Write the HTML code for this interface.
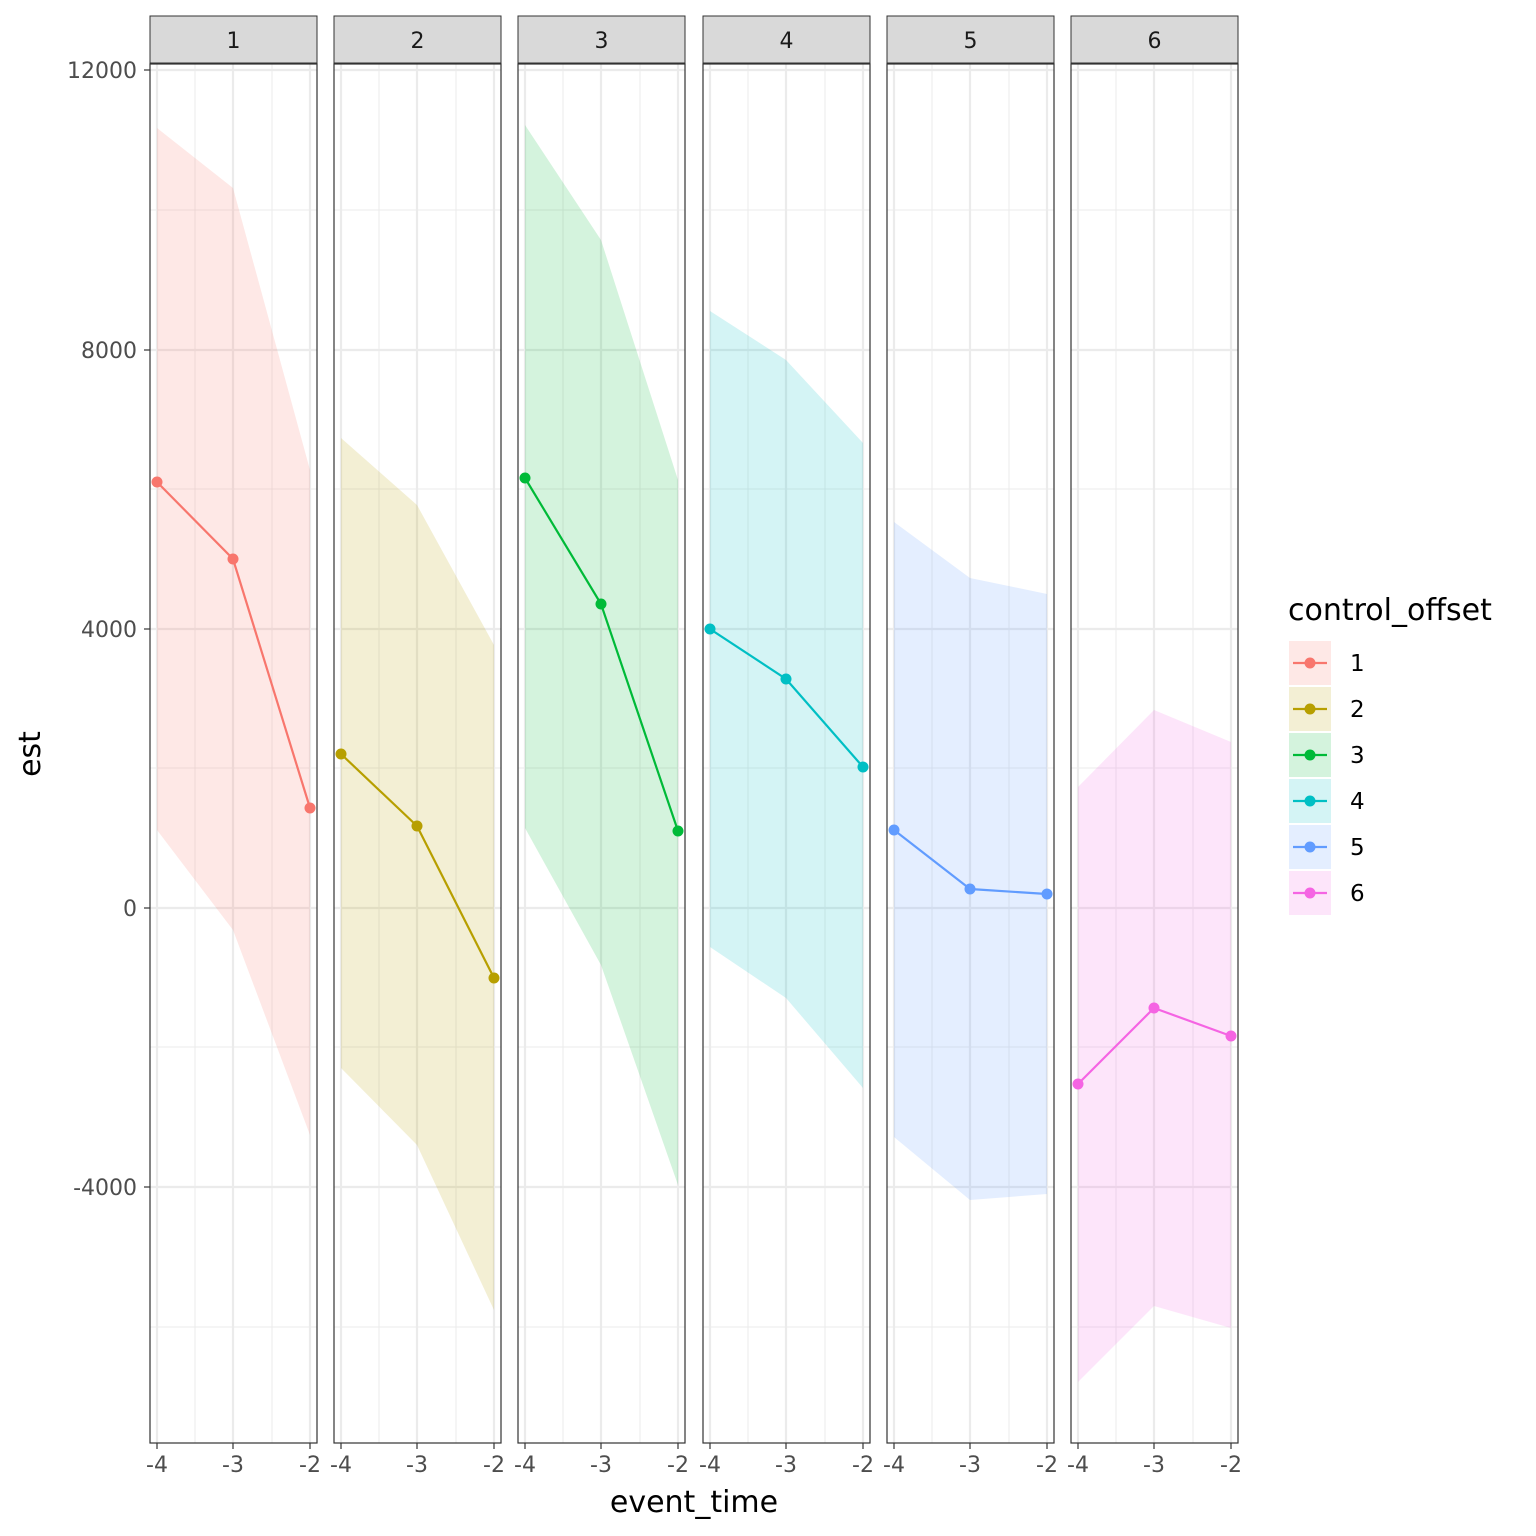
<!DOCTYPE html>
<html><head><meta charset="utf-8"><style>html,body{margin:0;padding:0;background:#fff}svg{display:block}text{font-family:"DejaVu Sans","Liberation Sans",sans-serif}</style></head><body>
<svg id="s" width="1536" height="1536" xmlns="http://www.w3.org/2000/svg"></svg>
<script>
const s=document.getElementById('s');let h='';
const cols=['#F8766D','#B79F00','#00BA38','#00BFC4','#619CFF','#F564E3'];
const px=[150,334,518,703,887,1071];
const pts=[[482,559,808],[754,826,978],[478,604,831],[629,679,767],[830,889,894],[1084,1008,1036]];
const up=[[128,188,470],[438,505,645],[125,240,480],[311,360,443],[522,578,594],[787,710,742]];
const lo=[[830,930,1135],[1068,1145,1310],[828,965,1185],[947,998,1088],[1137,1200,1194],[1382,1306,1328]];
const offs=[7,83,160];
const yMaj=[70,350,629,908,1187],yMin=[210,489,768,1047,1327];
for(let p=0;p<6;p++){
 const x0=px[p],w=167;
 h+=`<rect x="${x0}" y="16" width="${w}" height="47" fill="#D9D9D9" stroke="#333" stroke-width="1"/>`;
 h+=`<text x="${x0+w/2}" y="48" font-size="22" fill="#1A1A1A" text-anchor="middle">${p+1}</text>`;
 for(const y of yMin)h+=`<line x1="${x0}" x2="${x0+w}" y1="${y}" y2="${y}" stroke="#EBEBEB" stroke-width="1"/>`;
 for(const o of [45,122])h+=`<line x1="${x0+o}" x2="${x0+o}" y1="64" y2="1443" stroke="#EBEBEB" stroke-width="1"/>`;
 for(const y of yMaj)h+=`<line x1="${x0}" x2="${x0+w}" y1="${y}" y2="${y}" stroke="#EBEBEB" stroke-width="2.2"/>`;
 for(const o of offs)h+=`<line x1="${x0+o}" x2="${x0+o}" y1="64" y2="1443" stroke="#EBEBEB" stroke-width="2.2"/>`;
 const xs=offs.map(o=>x0+o);
 h+=`<polygon points="${xs.map((x,i)=>x+','+up[p][i]).join(' ')} ${xs.slice().reverse().map((x,i)=>x+','+lo[p][2-i]).join(' ')}" fill="${cols[p]}" fill-opacity="0.17"/>`;
 h+=`<polyline points="${xs.map((x,i)=>x+','+pts[p][i]).join(' ')}" fill="none" stroke="${cols[p]}" stroke-width="2.2"/>`;
 xs.forEach((x,i)=>h+=`<circle cx="${x}" cy="${pts[p][i]}" r="5.5" fill="${cols[p]}"/>`);
 h+=`<rect x="${x0}" y="64" width="${w}" height="1379" fill="none" stroke="#333" stroke-width="1.2"/>`;
 ['-4','-3','-2'].forEach((t,i)=>{h+=`<line x1="${xs[i]}" x2="${xs[i]}" y1="1443" y2="1449" stroke="#333" stroke-width="1.2"/><text x="${xs[i]}" y="1472" font-size="22" fill="#4D4D4D" text-anchor="middle">${t}</text>`;});
}
['12000','8000','4000','0','-4000'].forEach((t,i)=>{h+=`<line x1="144" x2="150" y1="${yMaj[i]}" y2="${yMaj[i]}" stroke="#333" stroke-width="1.2"/><text x="137" y="${yMaj[i]+8}" font-size="22" fill="#4D4D4D" text-anchor="end">${t}</text>`;});
h+=`<text x="694" y="1512" font-size="30" fill="#000" text-anchor="middle">event_time</text>`;
h+=`<text transform="translate(40,754) rotate(-90)" font-size="30" fill="#000" text-anchor="middle">est</text>`;
h+=`<text x="1288" y="620" font-size="30" fill="#000">control_offset</text>`;
for(let i=0;i<6;i++){const y=641+i*46;h+=`<rect x="1289" y="${y}" width="42" height="44" fill="${cols[i]}" fill-opacity="0.17"/><line x1="1293" x2="1327" y1="${y+22}" y2="${y+22}" stroke="${cols[i]}" stroke-width="2.2"/><circle cx="1310" cy="${y+22}" r="5.5" fill="${cols[i]}"/><text x="1350" y="${y+30}" font-size="23" fill="#000">${i+1}</text>`;}
s.innerHTML=h;
</script>
</body></html>
